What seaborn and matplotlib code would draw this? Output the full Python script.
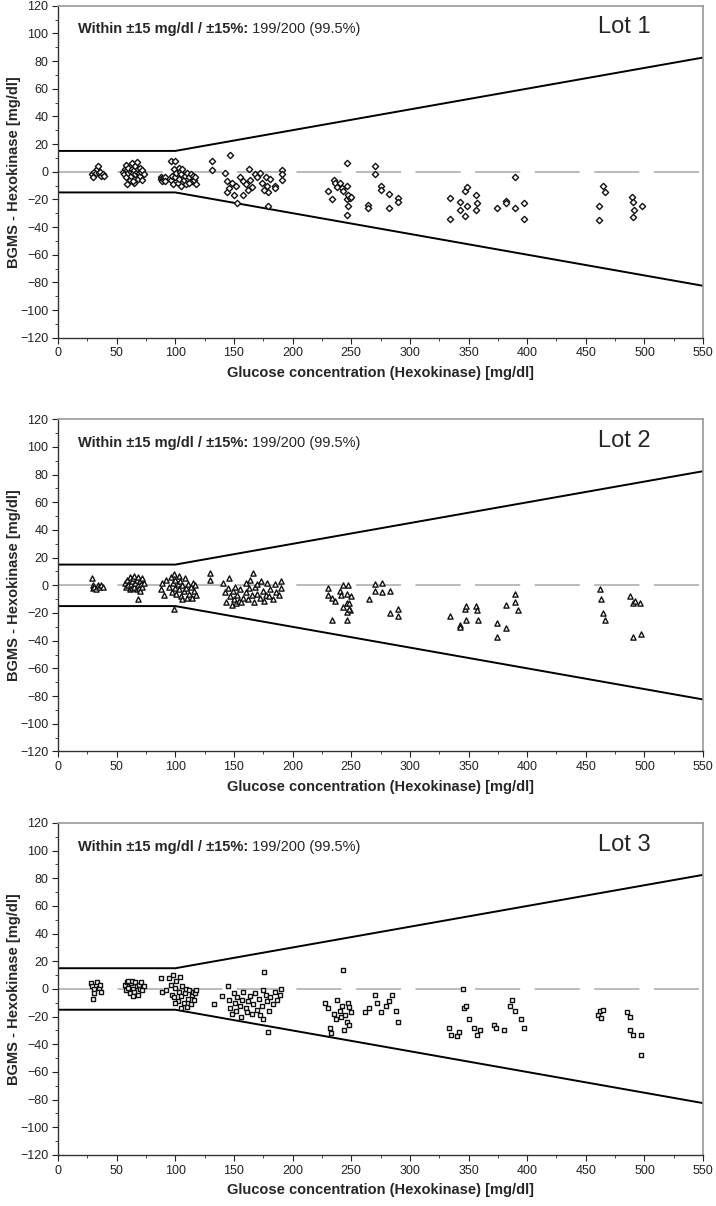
"""
BGMS 정확도 차트 (Lot 1~3)
- x: Hexokinase 기준 포도당 농도
- y: BGMS - Hexokinase 차이
"""
import matplotlib
matplotlib.use('Agg')
import matplotlib.pyplot as plt
import seaborn as sns
import pandas as pd

sns.set_theme(style='white')
plt.rcParams['font.family'] = ['Liberation Sans', 'DejaVu Sans']

# 허용 한계선 (±15 mg/dl 이하 / ±15% 이상)
limit_x = [0, 100, 550]
limit_hi = [15, 15, 82.5]
limit_lo = [-15, -15, -82.5]

lot_names = ['Lot 1', 'Lot 2', 'Lot 3']
summary_bold = 'Within \u00b115 mg/dl / \u00b115%:'
summary_text = ' 199/200 (99.5%)'

# Lot 1 (diamonds)
lot1_x = [29, 30, 31, 32, 33, 34, 35, 36, 37, 38, 39,
          55, 56, 57, 58, 58, 59, 60, 60, 61, 62, 62, 63, 63, 64, 65, 65, 66, 66,
          67, 67, 68, 68, 69, 70, 70, 71, 72, 72, 73, 59, 64,
          88, 88, 89, 89, 90, 90, 91, 91,
          96, 96, 97, 98, 99, 100, 100, 101, 102, 103, 103, 104, 105, 105, 106,
          107, 108, 109, 110, 111, 112, 113, 114, 115, 116, 117, 118, 112,
          131, 131,
          142, 144, 144, 147, 148, 150, 153, 155, 158, 158, 162, 163, 164, 165,
          168, 172, 174, 177, 178, 179, 179, 181, 185, 185, 191, 191, 191, 146,
          152, 160, 170, 176,
          230, 234, 235, 236, 238, 240, 242, 243, 246, 246, 246, 247, 249, 250,
          247, 246, 264, 264, 270, 270, 275, 275, 282, 282, 290, 290,
          334, 334, 343, 343, 347, 349, 349, 347, 356, 357, 356, 374, 382, 382,
          390, 390, 397, 397,
          461, 461, 465, 466, 489, 490, 491, 490, 498]
lot1_y = [-2, -4, 0, -1, 2, 4, -1, 0, -3, -2, -3,
          0, -2, 2, -4, 5, 1, -1, 3, -6, 0, -3, 2, 6, -1, 1, -8, 4, -2,
          0, 7, -5, 2, -1, 3, -3, 0, -6, 1, -2, -9, -7,
          -4, -5, -6, -7, -5, -6, -4, -7,
          8, -6, -3, -9, 2, 8, -4, -1, -8, 3, -5, 0, -2, -10, 2,
          -6, -3, -9, -1, -5, -4, -2, -7, -3, -6, -4, -9, -8,
          8, 1,
          -1, -7, -15, 12, -8, -17, -23, -4, -7, -17, -13, 2, -6, -11,
          -2, -1, -8, -4, -10, -15, -25, -5, -10, -12, 1, -2, -6, -12,
          -10, -9, -4, -13,
          -14, -20, -6, -8, -11, -8, -12, -14, 6, -10, -20, -17, -19, -18,
          -25, -31, -24, -26, 4, -2, -10, -13, -16, -26, -19, -22,
          -19, -34, -22, -28, -14, -11, -25, -32, -17, -23, -28, -26, -21, -23,
          -4, -26, -23, -34,
          -25, -35, -10, -15, -18, -22, -28, -33, -25]

# Lot 2 (triangles)
lot2_x = [29, 30, 30, 31, 32, 34, 35, 37, 38,
          57, 58, 59, 60, 61, 61, 62, 63, 63, 64, 65, 65, 66, 67, 67, 68, 68, 69,
          70, 70, 71, 72, 72, 73, 68,
          88, 89, 90, 92, 95, 96, 97, 98, 99, 100, 100, 101, 102, 103, 103, 104,
          105, 106, 107, 108, 109, 110, 111, 112, 113, 114, 115, 116, 117, 118,
          99, 106,
          130, 130,
          141, 142, 143, 145, 146, 147, 148, 149, 150, 151, 152, 153, 154, 155,
          156, 158, 160, 162, 163, 164, 165, 166, 167, 168, 170, 172, 173, 175,
          176, 177, 178, 180, 181, 183, 185, 186, 188, 190, 190, 160, 170,
          230, 230, 234, 236, 234, 240, 241, 243, 247, 246, 250, 243, 246, 248,
          249, 246, 246, 248,
          265, 270, 270, 276, 276, 283, 283, 290, 290,
          334, 343, 343, 347, 348, 348, 356, 357, 358, 374, 382, 382, 374, 390,
          390, 392,
          462, 463, 465, 466, 488, 490, 492, 490, 497, 496]
lot2_y = [5, 0, -2, -1, -3, 0, -1, 0, -1,
          2, -1, 4, 0, -3, 6, 1, -2, 3, 5, -1, 7, 2, -3, 4, 0, 6, -2,
          3, -4, 1, 5, -1, 2, -10,
          -3, 2, -7, 4, -1, 6, -5, 2, 8, -2, 4, -6, 1, -3, 7, 3,
          -8, 0, -4, 5, -2, -9, 1, -6, -1, -9, 2, -4, 0, -7,
          -17, -10,
          9, 4,
          2, -5, -12, -2, 5, -8, -14, -4, -10, -1, -13, -7, -11, -3,
          -12, -9, -5, -10, -2, 4, -7, 9, -12, -1, -6, -9, 3, -4,
          -11, -7, 2, -8, -3, -10, 1, -5, -7, 3, -2, 2, 1,
          -2, -7, -9, -11, -25, -4, -7, 0, 0, -6, -8, -16, -13, -13,
          -18, -19, -25, -17,
          -10, 1, -4, 2, -5, -4, -20, -17, -22,
          -22, -29, -30, -17, -15, -25, -15, -18, -25, -27, -14, -31, -37, -6,
          -12, -18,
          -3, -10, -20, -25, -8, -13, -11, -37, -35, -13]

# Lot 3 (squares)
lot3_x = [28, 29, 30, 31, 33, 35, 36, 37, 31,
          57, 58, 59, 60, 61, 62, 63, 64, 65, 66, 67, 68, 69, 70, 71, 72, 73, 64, 60,
          88, 89, 92, 95, 96, 97, 98, 99, 100, 101, 102, 103, 104, 105, 106, 107,
          108, 109, 110, 111, 112, 113, 114, 115, 116, 117, 118, 100, 105,
          133, 140, 145, 146, 147, 148, 150, 151, 152, 153, 155, 156, 157, 158,
          160, 161, 162, 164, 165, 166, 168, 170, 171, 172, 174, 175, 176, 177,
          178, 179, 180, 181, 183, 185, 187, 189, 190, 175,
          228, 230, 232, 233, 235, 237, 238, 240, 241, 242, 243, 244, 245, 246,
          247, 248, 250, 248,
          262, 265, 270, 272, 275, 280, 282, 285, 290, 288,
          333, 335, 340, 342, 345, 346, 348, 350, 355, 357, 360, 372, 373, 380,
          385, 387, 390, 395, 397,
          460, 462, 463, 465, 485, 488, 488, 490, 497, 497]
lot3_y = [4, 2, -7, 0, 5, 1, 3, -2, -3,
          3, -1, 5, 1, -3, 4, 6, 0, -2, 5, 2, -4, 3, 0, 5, -1, 2, -5, 6,
          8, -2, -1, 8, 3, -4, 10, -6, 1, 6, -9, -2, 9, -5, 2, -10,
          -3, 0, -13, -7, -1, -11, -4, -2, -8, -3, -1, -10, -14,
          -11, -5, 2, -8, -14, -18, -3, -10, -16, -6, -12, -20, -8, -2,
          -14, -17, -9, -5, -18, -11, -3, -15, -7, -19, -12, -1, 12, -4,
          -9, -31, -16, -6, -11, -2, -8, -4, 0, -22,
          -10, -14, -28, -32, -18, -22, -8, -16, -20, -12, 14, -30, -19, -24,
          -10, -13, -17, -26,
          -17, -14, -4, -10, -17, -12, -9, -4, -24, -16,
          -28, -33, -34, -31, 0, -14, -12, -22, -28, -33, -30, -26, -28, -30,
          -12, -8, -16, -22, -28,
          -19, -16, -21, -15, -17, -20, -30, -33, -33, -48]

lots = [(lot1_x, lot1_y, 'D', 10), (lot2_x, lot2_y, '^', 14), (lot3_x, lot3_y, 's', 11)]

fig = plt.figure(figsize=(7.16, 12.06), dpi=100)
# 패널 위치 (figure fraction)
bottoms = [0.720, 0.377, 0.0423]

for i, (xs, ys, mk, sz) in enumerate(lots):
    ax = fig.add_axes([0.081, bottoms[i], 0.901, 0.2753])
    df = pd.DataFrame({'x': xs, 'y': ys})

    # 0 기준 점선
    ax.plot([0, 550], [0, 0], color='#b5b5b5', lw=1.3, dashes=(25, 8), zorder=1)
    lim = pd.DataFrame({'x': limit_x, 'hi': limit_hi, 'lo': limit_lo})
    sns.lineplot(data=lim, x='x', y='hi', color='black', lw=1.4, ax=ax, zorder=2)
    sns.lineplot(data=lim, x='x', y='lo', color='black', lw=1.4, ax=ax, zorder=2)

    sns.scatterplot(data=df, x='x', y='y', marker=mk, s=sz, facecolor='white',
                    edgecolor='#111111', linewidth=1.0, ax=ax, zorder=3)

    ax.set_xlim(0, 550)
    ax.set_ylim(-120, 120)
    ax.set_xticks(range(0, 551, 50))
    ax.set_xticks(range(25, 551, 50), minor=True)
    ax.set_yticks(range(-120, 121, 20))
    ax.set_yticks(range(-110, 120, 20), minor=True)
    ax.tick_params(axis='both', which='major', direction='out', length=4, width=0.8,
                   labelsize=9, pad=3, left=True, bottom=True, colors='#222222')
    ax.tick_params(axis='both', which='minor', direction='out', length=2.5, width=0.6,
                   left=True, bottom=True, colors='#222222')
    for s in ['top', 'right']:
        ax.spines[s].set_color('#999999')
        ax.spines[s].set_linewidth(1.2)
    for s in ['left', 'bottom']:
        ax.spines[s].set_color('#333333')
        ax.spines[s].set_linewidth(1.0)

    ax.set_xlabel('Glucose concentration (Hexokinase) [mg/dl]', fontsize=10.5,
                  fontweight='bold')
    ax.set_ylabel('BGMS - Hexokinase [mg/dl]', fontsize=10.5, fontweight='bold')
    ax.xaxis.set_label_coords(0.5, -0.085)
    ax.yaxis.set_label_coords(-0.058, 0.5)

    t = ax.text(17, 100, summary_bold, fontsize=10.5, fontweight='bold', va='baseline')
    fig.canvas.draw()
    bb = t.get_window_extent()
    x_end = ax.transData.inverted().transform((bb.x1, bb.y0))[0]
    ax.text(x_end, 100, summary_text, fontsize=10.5, va='baseline')
    ax.text(505, 100, lot_names[i], fontsize=17, ha='right', va='baseline')

plt.savefig('out.png', dpi=100)
